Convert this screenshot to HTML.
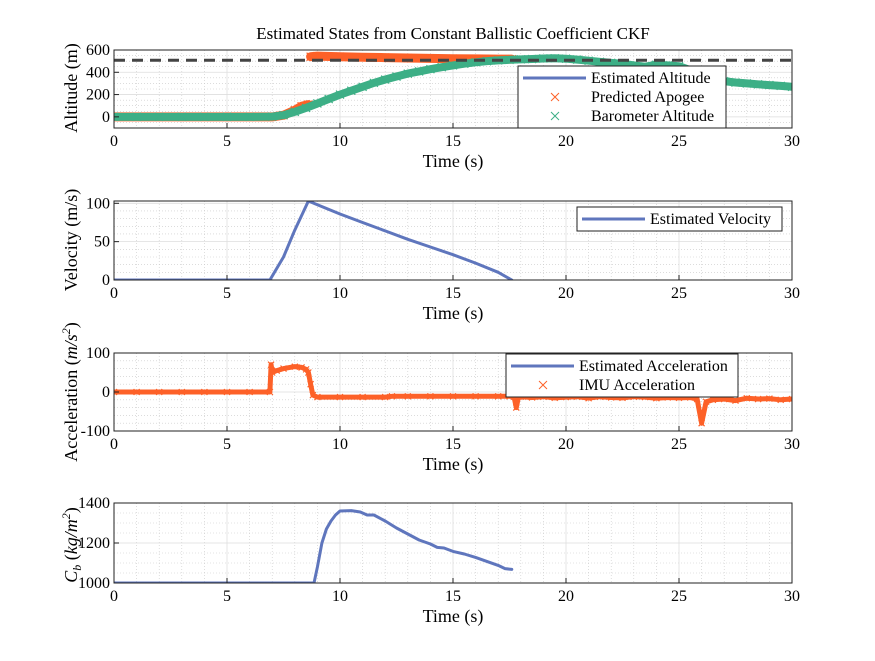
<!DOCTYPE html>
<html><head><meta charset="utf-8"><style>
body{margin:0;background:#fff;width:875px;height:656px;overflow:hidden}
svg{font-family:"Liberation Serif",serif}
</style></head><body>
<svg id="fig" width="875" height="656"></svg>
<script>
// ---- data ----
const baroT=[0,1,2,3,4,5,6,7,7.5,8,8.5,9,9.5,10,10.5,11,11.5,12,12.5,13,13.5,14,14.5,15,15.5,16,16.5,17,17.5,18,18.5,19,19.5,20,20.5,21,21.5,22,22.5,23,23.5,24,24.5,25,25.5,26,26.5,27,27.5,28,28.5,29,29.5,30];
const baroV=[0,0,0,0,0,0,0,2,15,45,80,120,160,200,235,270,305,335,362,388,408,428,446,462,477,490,500,507,512,516,519,524,526,522,514,504,494,485,475,462,450,468,462,455,420,390,350,320,308,300,292,285,278,270];
const apoT=[0,1,2,3,4,5,6,7,7.5,8,8.3,8.6,8.7,9,10,11,12,13,14,15,16,17,17.6];
const apoV=[0,0,0,0,0,0,0,0,15,60,95,110,540,545,540,535,532,528,525,522,520,518,518];
const velT=[0,6.9,7.5,8,8.6,9,10,11,12,13,14,15,16,17,17.6];
const velV=[0,0,30,65,103,98,86,75,64,53,43,33,22,10,0];
const accT=[0,1,2,3,4,5,6,6.9,6.95,7.0,7.2,7.5,8,8.3,8.5,8.6,8.7,8.8,9,10,11,12,12.3,13,14,15,16,17,17.5,17.7,17.8,17.9,18,18.5,19,19.5,20,20.5,21,21.5,22,22.5,23,23.5,24,24.5,25,25.5,25.8,26,26.2,26.5,27,27.5,28,28.5,29,29.5,30];
const accV=[0,0,0,0,0,0,0,0,70,50,55,60,65,63,58,50,20,-8,-13,-13,-13,-13,-11,-11,-11,-11,-11,-11,-11,-12,-40,-12,-12,-14,-12,-15,-13,-12,-16,-12,-14,-15,-12,-13,-16,-14,-15,-14,-18,-80,-25,-20,-18,-22,-16,-18,-17,-20,-18];
const cbT=[0,8.85,9.0,9.2,9.4,9.6,9.8,10,10.5,10.9,11.2,11.5,12,12.5,13,13.5,14,14.3,14.6,15,15.5,16,16.5,17,17.3,17.6];
const cbV=[1000,1000,1080,1200,1270,1310,1340,1360,1362,1355,1340,1340,1310,1275,1245,1215,1195,1178,1175,1158,1145,1128,1108,1088,1072,1068];
const xTicks=[0,5,10,15,20,25,30];
const apogeeLine=508;

const NS="http://www.w3.org/2000/svg";
const svg=document.getElementById('fig');
function mk(tag,attrs,parent){const e=document.createElementNS(NS,tag);for(const k in attrs)e.setAttribute(k,attrs[k]);(parent||svg).appendChild(e);return e;}
const BLUE="#5f76bd",ORANGE="#fd6128",GREEN="#3daf86";
const X0=114,X1=792;
function sx(t){return X0+(t/30)*(X1-X0);}

function axes(name,top,bot,ymin,ymax,yticks,yminor,ylabel,ylabelY){
  const g=mk('g',{});
  
  
  const sy=v=>bot-(v-ymin)/(ymax-ymin)*(bot-top);
  for(let t=1;t<30;t++){if(t%5)mk('line',{x1:sx(t),x2:sx(t),y1:top,y2:bot,stroke:'#c8c8c8','stroke-width':0.6,'stroke-dasharray':'1,2'},g);}
  for(let v=ymin+yminor;v<ymax;v+=yminor){if(!yticks.some(y=>Math.abs(y-v)<1e-6))mk('line',{x1:X0,x2:X1,y1:sy(v),y2:sy(v),stroke:'#c8c8c8','stroke-width':0.6,'stroke-dasharray':'1,2'},g);}
  xTicks.forEach(t=>{mk('line',{x1:sx(t),x2:sx(t),y1:top,y2:bot,stroke:'#dedede','stroke-width':0.8},g);});
  yticks.forEach(v=>{mk('line',{x1:X0,x2:X1,y1:sy(v),y2:sy(v),stroke:'#dedede','stroke-width':0.8},g);});
  const clip=mk('clipPath',{id:'c'+name},g);mk('rect',{x:X0,y:top,width:X1-X0,height:bot-top},clip);
  const data=mk('g',{'clip-path':'url(#c'+name+')'},g);
  xTicks.forEach(t=>{const l=mk('text',{x:sx(t),y:bot+18,'text-anchor':'middle','font-size':16},g);l.textContent=t;
    mk('line',{x1:sx(t),x2:sx(t),y1:bot,y2:bot-5,stroke:'#222'},g);});
  yticks.forEach(v=>{const l=mk('text',{x:X0-4,y:sy(v)+5,'text-anchor':'end','font-size':16},g);l.textContent=v;
    mk('line',{x1:X0,x2:X0+5,y1:sy(v),y2:sy(v),stroke:'#222'},g);});
  const xl=mk('text',{x:453,y:bot+39,'text-anchor':'middle','font-size':18},g);xl.textContent='Time (s)';
  
  const yl=mk('text',{x:0,y:0,'text-anchor':'middle','font-size':18,transform:'translate(77,'+ylabelY+') rotate(-90)'},g);
  yl.innerHTML=ylabel;
  
  return {g,data,sy,top,bot};
}
function line(ax,T,V,color,w,nm,brk){
  let d='';
  T.forEach((t,i)=>{const jump=brk&&i&&Math.abs(V[i]-V[i-1])>brk;
    d+=((i&&!jump)?'L':'M')+sx(t).toFixed(1)+' '+ax.sy(V[i]).toFixed(1)+' ';});
  const p=mk('path',{d,fill:'none',stroke:color,'stroke-width':w,'stroke-linejoin':'round','stroke-linecap':'round'},ax.data);
  return p;
}
function crosses(ax,T,V,color,s,nm){
  let d='';T.forEach((t,i)=>{const x=sx(t),y=ax.sy(V[i]);d+=`M${x-s} ${y-s}L${x+s} ${y+s}M${x-s} ${y+s}L${x+s} ${y-s}`;});
  const p=mk('path',{d,fill:'none',stroke:color,'stroke-width':1.2},ax.data);
  
}
function box(ax){mk('rect',{x:X0,y:ax.top,width:X1-X0,height:ax.bot-ax.top,fill:'none',stroke:'#222','stroke-width':1},ax.g);}
function legend(x,y,w,entries,nm){
  const g=mk('g',{});
  mk('rect',{x,y,width:w,height:entries.length*19+5,fill:'#fff',stroke:'#222','stroke-width':1},g);
  entries.forEach((e,i)=>{const cy=y+12+i*19;
    const eg=mk('g',{},g);
    if(e.type==='line')mk('line',{x1:x+5,x2:x+68,y1:cy,y2:cy,stroke:e.c,'stroke-width':3},eg);
    else{const cx=x+37;mk('path',{d:`M${cx-4} ${cy-4}L${cx+4} ${cy+4}M${cx-4} ${cy+4}L${cx+4} ${cy-4}`,stroke:e.c,'stroke-width':1,fill:'none'},eg);}
    const t=mk('text',{x:x+73,y:cy+5,'font-size':16},eg);t.textContent=e.t;});
}

const title=mk('text',{x:453,y:39,'text-anchor':'middle','font-size':17});
title.textContent='Estimated States from Constant Ballistic Coefficient CKF';


// Plot 1
const a1=axes('altitude-plot',50,128,-100,600,[0,200,400,600],50,'Altitude (m)',88);
line(a1,baroT,baroV,BLUE,3,'estimated-altitude-line');
line(a1,apoT,apoV,ORANGE,9,'predicted-apogee-band',200);
crosses(a1,apoT,apoV,ORANGE,4,'predicted-apogee-markers');
line(a1,baroT,baroV,GREEN,8,'barometer-altitude-band');
crosses(a1,baroT,baroV,GREEN,4,'barometer-altitude-markers');
mk('line',{x1:X0,x2:X1,y1:a1.sy(apogeeLine),y2:a1.sy(apogeeLine),stroke:'#444','stroke-width':3,'stroke-dasharray':'11,7'},a1.data);
box(a1);
legend(518,66,208,[{type:'line',c:BLUE,t:'Estimated Altitude'},{type:'x',c:ORANGE,t:'Predicted Apogee'},{type:'x',c:GREEN,t:'Barometer Altitude'}],'altitude-legend');

// Plot 2
const a2=axes('velocity-plot',201,280,0,103,[0,50,100],10,'Velocity (m/s)',240);
line(a2,velT,velV,BLUE,3,'estimated-velocity-line');
box(a2);
legend(577,207,205,[{type:'line',c:BLUE,t:'Estimated Velocity'}],'velocity-legend');

// Plot 3
const a3=axes('acceleration-plot',353,431,-100,100,[-100,0,100],20,'Acceleration (<tspan font-style="italic">m/s</tspan><tspan font-size="12" dy="-7" font-style="italic">2</tspan><tspan dy="7">)</tspan>',392);
line(a3,accT,accV,BLUE,3,'estimated-acceleration-line');
line(a3,accT,accV,ORANGE,5,'imu-acceleration-band');
crosses(a3,accT,accV,ORANGE,3,'imu-acceleration-markers');
box(a3);
legend(506,354,232,[{type:'line',c:BLUE,t:'Estimated Acceleration'},{type:'x',c:ORANGE,t:'IMU Acceleration'}],'acceleration-legend');

// Plot 4
const a4=axes('ballistic-coefficient-plot',503,583,1000,1400,[1000,1200,1400],50,'<tspan font-style="italic">C</tspan><tspan font-size="12" dy="4" font-style="italic">b</tspan><tspan dy="-4"> (</tspan><tspan font-style="italic">kg/m</tspan><tspan font-size="12" dy="-7" font-style="italic">2</tspan><tspan dy="7">)</tspan>',545);
line(a4,cbT,cbV,BLUE,3,'ballistic-coefficient-line');
box(a4);
</script>
</body></html>
